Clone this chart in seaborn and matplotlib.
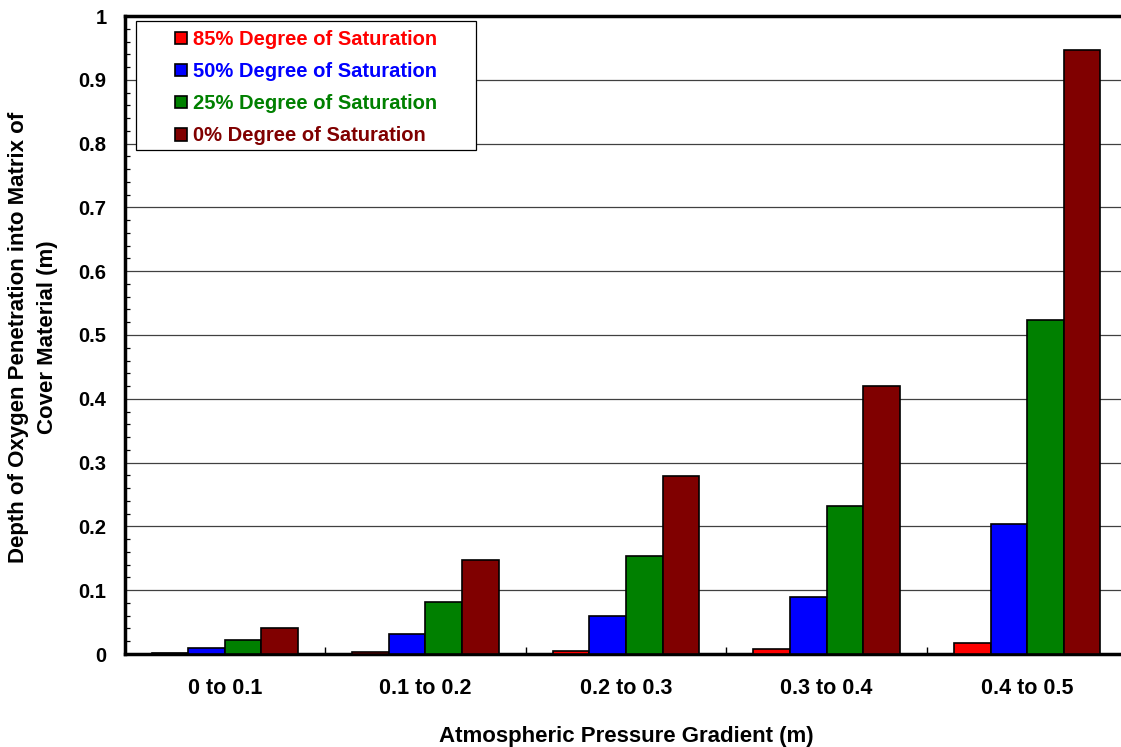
import matplotlib
matplotlib.use("Agg")
import matplotlib.pyplot as plt
from matplotlib.ticker import MultipleLocator, FixedLocator
from matplotlib.patches import Rectangle
import seaborn as sns
import pandas as pd

# ---- data ----
categories = ["0 to 0.1", "0.1 to 0.2", "0.2 to 0.3", "0.3 to 0.4", "0.4 to 0.5"]
series_names = ["85% Degree of Saturation", "50% Degree of Saturation",
                "25% Degree of Saturation", "0% Degree of Saturation"]
sat85 = [0.001, 0.003, 0.005, 0.008, 0.017]
sat50 = [0.009, 0.032, 0.060, 0.090, 0.204]
sat25 = [0.022, 0.082, 0.154, 0.232, 0.524]
sat0 = [0.040, 0.147, 0.279, 0.420, 0.947]
colors = ["#FF0000", "#0000FF", "#008000", "#800000"]

rows = []
for name, vals in zip(series_names, [sat85, sat50, sat25, sat0]):
    for c, v in zip(categories, vals):
        rows.append({"cat": c, "series": name, "val": v})
df = pd.DataFrame(rows)

sns.set_theme(style="white")
plt.rcParams["font.family"] = ["Liberation Sans", "DejaVu Sans"]
plt.rcParams["font.weight"] = "bold"
plt.rcParams["text.color"] = "black"
plt.rcParams["axes.labelcolor"] = "black"
plt.rcParams["xtick.color"] = "black"
plt.rcParams["ytick.color"] = "black"

W, H = 1121, 747
fig = plt.figure(figsize=(W / 100, H / 100), dpi=100)
ax_left, ax_right, ax_top, ax_bot = 124.5, 1127.5, 16, 654
ax = fig.add_axes([ax_left / W, 1 - ax_bot / H, (ax_right - ax_left) / W, (ax_bot - ax_top) / H])

sns.barplot(data=df, x="cat", y="val", hue="series", order=categories,
            hue_order=series_names, palette=colors, width=0.73,
            edgecolor="black", linewidth=1.2, saturation=1, ax=ax, legend=False,
            zorder=3)

ax.set_xlim(-0.5, 4.5)
ax.set_ylim(0, 1)

# grid
ax.yaxis.set_major_locator(MultipleLocator(0.1))
ax.yaxis.set_minor_locator(MultipleLocator(0.02))
ax.grid(axis="y", which="major", color="#404040", linewidth=0.9, zorder=1)
ax.set_axisbelow(True)

ax.set_yticks([i / 10 for i in range(11)])
ax.set_yticklabels(["0", "0.1", "0.2", "0.3", "0.4", "0.5", "0.6", "0.7", "0.8", "0.9", "1"],
                   fontsize=14.5, fontweight="bold", color="black")
ax.tick_params(axis="y", which="major", length=0, pad=13, labelcolor="black")
ax.tick_params(axis="y", which="minor", direction="in", length=3.5, width=0.9, color="black", left=True)

ax.tick_params(axis="x", which="major", length=0, pad=17, labelsize=15.5, labelcolor="black")
for lab in ax.get_xticklabels():
    lab.set_fontweight("bold")
    lab.set_color("black")
ax.xaxis.set_minor_locator(FixedLocator([0.5, 1.5, 2.5, 3.5]))
ax.tick_params(axis="x", which="minor", direction="in", length=5, width=1, color="black", bottom=True)

for s in ["left", "bottom", "top"]:
    ax.spines[s].set_visible(True)
    ax.spines[s].set_linewidth(2.5)
    ax.spines[s].set_color("black")
ax.spines["right"].set_visible(False)

ax.set_xlabel("Atmospheric Pressure Gradient (m)", fontsize=16, fontweight="bold",
              labelpad=20, color="black")
ax.set_ylabel("")
fig.text(33 / W, 1 - 337 / H, "Depth of Oxygen Penetration into Matrix of\nCover Material (m)",
         rotation=90, ha="center", va="center", fontsize=16, fontweight="bold",
         linespacing=1.55, color="black")

# legend
handles = [Rectangle((0, 0), 1, 1, facecolor=c, edgecolor="black", linewidth=1.2) for c in colors]
x_ax = lambda px: (px - ax_left) / (ax_right - ax_left)
y_ax = lambda py: (ax_bot - py) / (ax_bot - ax_top)
leg = ax.legend(handles, series_names, loc="upper left",
                bbox_to_anchor=(x_ax(175), y_ax(30)), frameon=False,
                prop={"size": 14.5, "weight": "bold"},
                handlelength=0.6, handleheight=0.6, handletextpad=0.3,
                labelspacing=0.65, borderpad=0, borderaxespad=0)
for t, c in zip(leg.get_texts(), colors):
    t.set_color(c)
frame = Rectangle((x_ax(136), y_ax(150)), x_ax(476) - x_ax(136), y_ax(21) - y_ax(150),
                  transform=ax.transAxes, facecolor="white", edgecolor="black",
                  linewidth=0.9, zorder=4)
ax.add_patch(frame)
leg.set_zorder(5)

fig.savefig("out.png", dpi=100)
